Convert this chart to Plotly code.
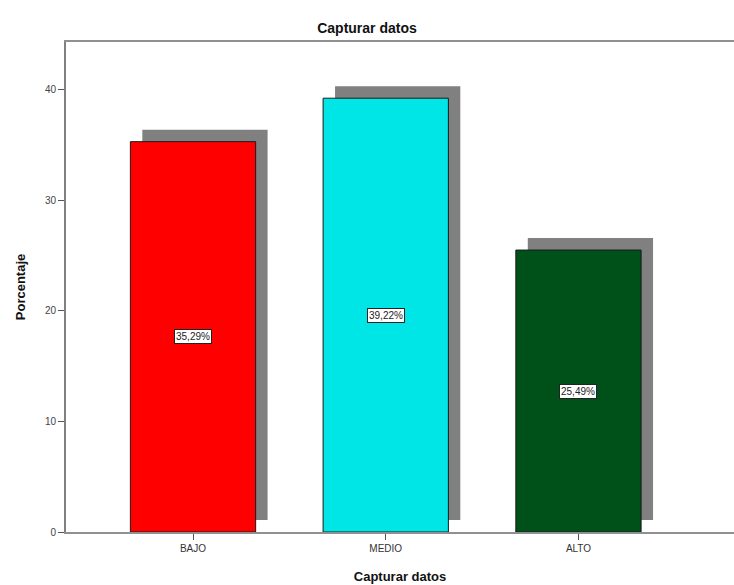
import plotly.graph_objects as go

# Datos
categorias = ["BAJO", "MEDIO", "ALTO"]
porcentajes = [35.29, 39.22, 25.49]
etiquetas = ["35,29%", "39,22%", "25,49%"]
colores = ["#FF0000", "#00E5E5", "#00501A"]

ancho = 0.65          # ancho de barra (en unidades de categoría)
sombra_dx = 0.062     # desplazamiento horizontal de la sombra
sombra_dy = 1.08      # desplazamiento vertical de la sombra
y_max = 44.3

fig = go.Figure()

# Sombra gris detrás de cada barra
fig.add_trace(go.Bar(
    x=categorias, y=porcentajes, base=[sombra_dy] * len(porcentajes),
    width=ancho, offset=-ancho / 2 + sombra_dx,
    marker=dict(color="#808080", line=dict(width=0)),
    hoverinfo="skip", showlegend=False,
))

# Barras principales
fig.add_trace(go.Bar(
    x=categorias, y=porcentajes,
    width=ancho, offset=-ancho / 2,
    marker=dict(color=colores, line=dict(color="#1a1a1a", width=1)),
    showlegend=False,
))

# Etiquetas de valor en el centro de cada barra
for cat, val, txt in zip(categorias, porcentajes, etiquetas):
    fig.add_annotation(
        x=cat, y=val / 2, text=txt, showarrow=False,
        font=dict(family="Liberation Sans, Arial", size=10, color="#222"),
        bgcolor="white", bordercolor="#222", borderwidth=1, borderpad=1,
    )

fig.update_layout(
    width=734, height=585,
    margin=dict(l=66, r=0, t=42, b=53),
    paper_bgcolor="white", plot_bgcolor="white",
    barmode="overlay",
    font=dict(family="Liberation Sans, Arial", color="#222"),
    title=dict(
        text="<b>Capturar datos</b>", x=0.5, xanchor="center",
        y=1 - 28 / 585, yanchor="middle",
        font=dict(size=14, color="#111"),
    ),
    xaxis=dict(
        range=[-0.659, 2.807],
        showline=True, linecolor="#909090", linewidth=2, mirror=True,
        ticks="outside", ticklen=6, tickcolor="#555",
        tickfont=dict(size=10, color="#333"),
        showgrid=False, zeroline=False,
        title=dict(text="<b>Capturar datos</b>", font=dict(size=13, color="#111"), standoff=19),
    ),
    yaxis=dict(
        range=[0, y_max],
        tickvals=[0, 10, 20, 30, 40],
        showline=True, linecolor="#808080", linewidth=2,
        ticks="outside", ticklen=6, tickcolor="#555",
        tickfont=dict(size=10, color="#444"),
        showgrid=False, zeroline=False,
        title=dict(text="<b>Porcentaje</b>", font=dict(size=13, color="#111"), standoff=16),
    ),
)

fig.write_html("out.html")
